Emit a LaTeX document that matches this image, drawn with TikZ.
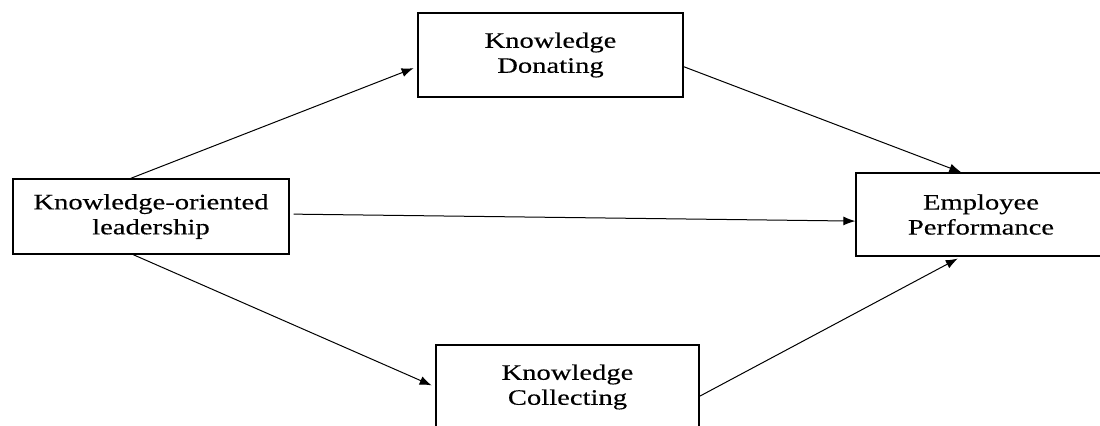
\documentclass[tikz,border=0pt]{standalone}
\usepackage{fontspec}
\setmainfont[FakeStretch=1.3,FakeBold=0.3]{Liberation Serif}
\usetikzlibrary{arrows.meta}
\begin{document}
\begin{tikzpicture}[x=0.5pt,y=-0.5pt,
		box/.style={draw,line width=0.65pt,align=center,font=\fontsize{11}{12.5}\selectfont,inner sep=0pt},
		link/.style={line width=0.5pt,-{Latex[length=6pt,width=4.5pt]}}]
				\useasboundingbox (0,0) rectangle (1100,425);
				\clip (0,0) rectangle (1100,425);
				\node [box,minimum width=138pt,minimum height=37.5pt] (lead) at (151,216.5) {Knowledge-oriented\\leadership};
				\node [box,minimum width=132.5pt,minimum height=42pt] (don) at (550.5,55) {Knowledge\\Donating};
				\node [box,minimum width=131.5pt,minimum height=42pt] (col) at (567.5,387) {Knowledge\\Collecting};
				\node [box,minimum width=125pt,minimum height=41.5pt] (perf) at (981,214.5) {Employee\\Performance};
				\draw [link,shorten >=2pt] (lead.118) to (don.185);
				\draw [link,shorten <=2pt] (lead.1) to (perf.183);
				\draw [link,shorten >=2pt] (lead.245.5) to (col.west);
				\draw [link] (don.355.7) to (perf.115.7);
				\draw [link,shorten >=2pt] (col.356.5) to (perf.245.4);
\end{tikzpicture}
\end{document}
